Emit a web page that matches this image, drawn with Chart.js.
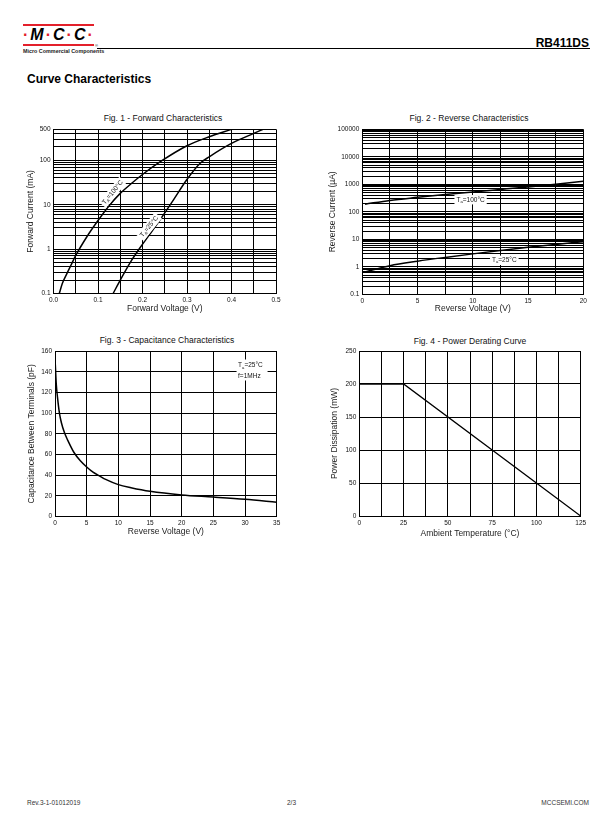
<!DOCTYPE html>
<html lang="en">
<head>
<meta charset="UTF-8">
<title>RB411DS - Curve Characteristics</title>
<script src="https://cdn.jsdelivr.net/npm/chart.js"></script>
<style>
  * { margin: 0; padding: 0; box-sizing: border-box; }
  body {
    width: 612px; height: 825px; position: relative; overflow: hidden;
    background: #fff; color: #000;
    font-family: 'Liberation Sans', Arial, sans-serif;
  }
  .abs { position: absolute; white-space: nowrap; }
  canvas { position: absolute; }
  .red-bar { position: absolute; left: 23px; width: 71px; height: 2px; background: #e3202b; }
  .logo { font-size: 16px; font-weight: bold; font-style: italic; letter-spacing: 2px; line-height: 16px; }
  .logo .dot { color: #e3202b; font-style: normal; }
  .mcc-name { font-size: 5.4px; font-weight: bold; line-height: 6px; color: #222; }
  .part { font-size: 12px; font-weight: bold; line-height: 14px; }
  .section { font-size: 12px; font-weight: bold; line-height: 14px; }
  .fig-title { position: absolute; width: 240px; text-align: center; font-size: 8.5px; line-height: 10px; color: #111; }
  .foot { font-size: 6.5px; line-height: 8px; color: #333; }
</style>
</head>
<body>
  <!-- page header -->
  <div class="red-bar" style="top:24px"></div>
  <div class="abs logo" style="left:23px;top:27px"><span class="dot">·</span>M<span class="dot">·</span>C<span class="dot">·</span>C<span class="dot">·</span></div>
  <div class="red-bar" style="top:44px"></div>
  <div class="abs mcc-name" style="left:23px;top:48px">Micro Commercial Components</div>
  <div class="abs" style="left:95px;top:43px;font-size:4px">®</div>
  <div class="abs" style="left:97px;top:48px;width:493px;height:1px;background:#000"></div>
  <div class="abs part" style="right:23px;top:36px">RB411DS</div>
  <div class="abs section" style="left:27px;top:72px">Curve Characteristics</div>

  <div class="fig-title" style="left:43px;top:113px">Fig. 1 - Forward Characteristics</div>
  <div class="fig-title" style="left:349px;top:113px">Fig. 2 - Reverse Characteristics</div>
  <div class="fig-title" style="left:47px;top:335px">Fig. 3 - Capacitance Characteristics</div>
  <div class="fig-title" style="left:350px;top:336px">Fig. 4 - Power Derating Curve</div>

  <canvas id="fig1" style="left:26px;top:120px" width="259" height="194"></canvas>
  <canvas id="fig2" style="left:328px;top:120px" width="267" height="194"></canvas>
  <canvas id="fig3" style="left:27px;top:343px" width="258" height="194"></canvas>
  <canvas id="fig4" style="left:330px;top:343px" width="260" height="196"></canvas>

  <!-- page footer -->
  <div class="abs foot" style="left:27px;top:799px">Rev.3-1-01012019</div>
  <div class="abs foot" style="left:287px;top:799px">2/3</div>
  <div class="abs foot" style="right:23px;top:799px">MCCSEMI.COM</div>

<script>
  // Fig. 1 - Forward characteristics: forward voltage (V) vs forward current (mA)
  const fwdVolt100 = [0.013, 0.02, 0.03, 0.04, 0.05, 0.075, 0.1, 0.125, 0.15, 0.175, 0.2, 0.24, 0.3, 0.35, 0.4];
  const fwdCurr100 = [0.1, 0.17, 0.28, 0.45, 0.72, 1.9, 4.4, 9.5, 18, 30, 48, 93, 213, 340, 500];
  const fwdVolt25 = [0.134, 0.15, 0.175, 0.194, 0.217, 0.239, 0.27, 0.299, 0.329, 0.35, 0.4, 0.45, 0.471];
  const fwdCurr25 = [0.1, 0.2, 0.55, 1.06, 2.2, 4.5, 13, 36, 85, 120, 240, 405, 500];
  const fig1XTicks = [0, 0.05, 0.1, 0.15, 0.2, 0.25, 0.3, 0.35, 0.4, 0.45, 0.5];
  const fig1XLabels = ['0.0', '', '0.1', '', '0.2', '', '0.3', '', '0.4', '', '0.5'];
  const fig1YDecades = [0.1, 1, 10, 100];
  const fig1YLabels = [0.1, 1, 10, 100, 500];

  // Fig. 2 - Reverse characteristics: reverse voltage (V) vs reverse current (uA)
  const revVolt = [0.25, 2.5, 5, 7.5, 10, 12.5, 15, 17.5, 20];
  const revCurr100 = [190, 260, 335, 425, 530, 650, 800, 1000, 1280];
  const revCurr25 = [0.65, 1.1, 1.6, 2.2, 2.95, 3.9, 5.1, 6.5, 8.2];
  const fig2XTicks = [0, 2.5, 5, 7.5, 10, 12.5, 15, 17.5, 20];
  const fig2XLabels = ['0', '', '5', '', '10', '', '15', '', '20'];
  const fig2YDecades = [0.1, 1, 10, 100, 1000, 10000];
  const fig2YLabels = [0.1, 1, 10, 100, 1000, 10000, 100000];

  // Fig. 3 - Capacitance: reverse voltage (V) vs capacitance (pF)
  const capVolt = [0.05, 0.2, 0.4, 0.7, 1, 1.5, 2, 3, 4, 5, 6, 7, 8, 10, 12, 15, 20, 25, 30, 35];
  const capPf = [147, 128, 115, 100, 91, 81, 74, 62, 54, 48, 43, 39.5, 36, 31, 28, 24.5, 21, 19, 16.8, 14];
  const fig3XTicks = [0, 5, 10, 15, 20, 25, 30, 35];
  const fig3YTicks = [0, 20, 40, 60, 80, 100, 120, 140, 160];

  // Fig. 4 - Power derating: ambient temperature (C) vs power dissipation (mW)
  const derTemp = [0, 25, 125];
  const derPower = [200, 200, 0];
  const fig4XTicks = [0, 12.5, 25, 37.5, 50, 62.5, 75, 87.5, 100, 112.5, 125];
  const fig4XLabels = ['0', '', '25', '', '50', '', '75', '', '100', '', '125'];
  const fig4YTicks = [0, 50, 100, 150, 200, 250];

  const logSteps = [1, 2, 3, 4, 5, 6, 7, 8, 9];
  const FONT = "'Liberation Sans', Arial, sans-serif";

  // log grid: every 1..9 step of each decade, capped at max
  function logGrid(decades, max) {
    const vals = [];
    decades.forEach(d => logSteps.forEach(m => { if (d * m <= max * 1.0001) vals.push(d * m); }));
    if (Math.abs(vals[vals.length - 1] - max) > max * 1e-6) vals.push(max);
    return vals;
  }
  function logLabels(vals, shown) {
    return vals.map(v => {
      const hit = shown.find(s => Math.abs(s - v) < s * 1e-6);
      return hit === undefined ? '' : String(hit);
    });
  }
  function pts(xs, ys) { return xs.map((x, i) => ({ x: x, y: ys[i] })); }

  function axis(type, min, max, ticks, labels, title, size, isX) {
    return {
      type: type, min: min, max: max,
      afterBuildTicks: s => { s.ticks = ticks.map(v => ({ value: v })); },
      afterFit: s => { if (isX) s.height = size; else s.width = size; },
      grid: { color: '#000', lineWidth: 1, drawTicks: false },
      border: { color: '#000', width: 1 },
      ticks: {
        autoSkip: false, maxRotation: 0, padding: 3, color: '#111',
        font: { family: FONT, size: 6.5 },
        callback: (v, i) => labels[i]
      },
      title: { display: true, text: title, color: '#222', font: { family: FONT, size: 8.5 }, padding: 0 }
    };
  }

  function curve(data, width) {
    return {
      data: data, borderColor: '#000', borderWidth: width, pointRadius: 0,
      fill: false, cubicInterpolationMode: 'monotone'
    };
  }

  // "T_A=..." label with white box, centred on (cx, cy), rotated
  function tempLabel(ctx, cx, cy, sub, rest, angle, size) {
    ctx.save();
    ctx.translate(cx, cy);
    ctx.rotate(angle * Math.PI / 180);
    const main = size + 'px ' + FONT;
    const small = (size * 0.65) + 'px ' + FONT;
    ctx.font = main;
    const wT = ctx.measureText('T').width;
    const wR = ctx.measureText(rest).width;
    ctx.font = small;
    const wS = ctx.measureText(sub).width;
    const w = wT + wS + wR;
    ctx.fillStyle = '#fff';
    ctx.fillRect(-w / 2 - 2, -size * 0.72, w + 4, size * 1.44);
    ctx.fillStyle = '#111';
    ctx.textBaseline = 'middle';
    ctx.textAlign = 'left';
    let x = -w / 2;
    ctx.font = main; ctx.fillText('T', x, 0); x += wT;
    ctx.font = small; ctx.fillText(sub, x, size * 0.3); x += wS;
    ctx.font = main; ctx.fillText(rest, x, 0);
    ctx.restore();
  }

  function options(canvas, area, x, y) {
    const top = parseFloat(canvas.style.top), left = parseFloat(canvas.style.left);
    return {
      responsive: false, animation: false, devicePixelRatio: 1,
      layout: { padding: { left: 0, bottom: 0, top: area.top - top, right: left + canvas.width - area.right } },
      plugins: { legend: { display: false }, tooltip: { enabled: false }, title: { display: false } },
      scales: { x: x, y: y }
    };
  }

  // ---- Fig. 1
  const c1 = document.getElementById('fig1');
  const fig1YTicks = logGrid(fig1YDecades, 500);
  new Chart(c1, {
    type: 'line',
    data: { datasets: [curve(pts(fwdVolt100, fwdCurr100), 1.5), curve(pts(fwdVolt25, fwdCurr25), 1.5)] },
    options: options(c1, { top: 129.3, right: 276 },
      axis('linear', 0, 0.5, fig1XTicks, fig1XLabels, 'Forward Voltage (V)', 314 - 293.5, true),
      axis('logarithmic', 0.1, 500, fig1YTicks, logLabels(fig1YTicks, fig1YLabels), 'Forward Current (mA)', 53.5 - 26, false)),
    plugins: [{
      id: 'fig1Labels',
      afterDatasetsDraw(chart) {
        const sx = chart.scales.x, sy = chart.scales.y, ctx = chart.ctx;
        tempLabel(ctx, sx.getPixelForValue(0.133), sy.getPixelForValue(19), 'A', '=100°C', -51, 6.5);
        tempLabel(ctx, sx.getPixelForValue(0.215), sy.getPixelForValue(3.2), 'A', '=25°C', -51, 6.5);
      }
    }]
  });

  // ---- Fig. 2
  const c2 = document.getElementById('fig2');
  const fig2YTicks = logGrid(fig2YDecades, 100000);
  new Chart(c2, {
    type: 'line',
    data: { datasets: [curve(pts(revVolt, revCurr100), 1.5), curve(pts(revVolt, revCurr25), 1.5)] },
    options: options(c2, { top: 129.3, right: 583.3 },
      axis('linear', 0, 20, fig2XTicks, fig2XLabels, 'Reverse Voltage (V)', 314 - 294.3, true),
      axis('logarithmic', 0.1, 100000, fig2YTicks, logLabels(fig2YTicks, fig2YLabels), 'Reverse Current (µA)', 362.3 - 328, false)),
    plugins: [{
      id: 'fig2Labels',
      afterDatasetsDraw(chart) {
        const sx = chart.scales.x, sy = chart.scales.y, ctx = chart.ctx;
        tempLabel(ctx, sx.getPixelForValue(9.8), sy.getPixelForValue(275), 'a', '=100°C', 0, 6.5);
        tempLabel(ctx, sx.getPixelForValue(12.85), sy.getPixelForValue(1.72), 'a', '=25°C', 0, 6.5);
      }
    }]
  });

  // ---- Fig. 3
  const c3 = document.getElementById('fig3');
  new Chart(c3, {
    type: 'line',
    data: { datasets: [curve(pts(capVolt, capPf), 1.5)] },
    options: options(c3, { top: 351, right: 276.7 },
      axis('linear', 0, 35, fig3XTicks, fig3XTicks.map(String), 'Reverse Voltage (V)', 537 - 516.7, true),
      axis('linear', 0, 160, fig3YTicks, fig3YTicks.map(String), 'Capacitance Between Terminals (pF)', 55 - 27, false)),
    plugins: [{
      id: 'fig3Labels',
      afterDatasetsDraw(chart) {
        const sx = chart.scales.x, sy = chart.scales.y, ctx = chart.ctx;
        const x = sx.getPixelForValue(28.9), y1 = sy.getPixelForValue(146), y2 = sy.getPixelForValue(136);
        ctx.save();
        ctx.fillStyle = '#fff';
        ctx.fillRect(x - 1.5, y1 - 6, 31, 21);
        ctx.restore();
        const w = 6.5;
        ctx.save();
        ctx.font = w + 'px ' + FONT;
        ctx.fillStyle = '#111'; ctx.textBaseline = 'middle'; ctx.textAlign = 'left';
        ctx.fillText('T', x, y1);
        const wT = ctx.measureText('T').width;
        ctx.font = (w * 0.65) + 'px ' + FONT;
        ctx.fillText('a', x + wT, y1 + 2);
        const wA = ctx.measureText('a').width;
        ctx.font = w + 'px ' + FONT;
        ctx.fillText('=25°C', x + wT + wA, y1);
        ctx.fillText('f=1MHz', x, y2);
        ctx.restore();
      }
    }]
  });

  // ---- Fig. 4
  const c4 = document.getElementById('fig4');
  new Chart(c4, {
    type: 'line',
    data: { datasets: [{ data: pts(derTemp, derPower), borderColor: '#000', borderWidth: 1.3, pointRadius: 0, fill: false, tension: 0 }] },
    options: options(c4, { top: 351, right: 580.7 },
      axis('linear', 0, 125, fig4XTicks, fig4XLabels, 'Ambient Temperature (°C)', 539 - 516, true),
      axis('linear', 0, 250, fig4YTicks, fig4YTicks.map(String), 'Power Dissipation (mW)', 359.3 - 330, false))
  });
</script>
</body>
</html>
